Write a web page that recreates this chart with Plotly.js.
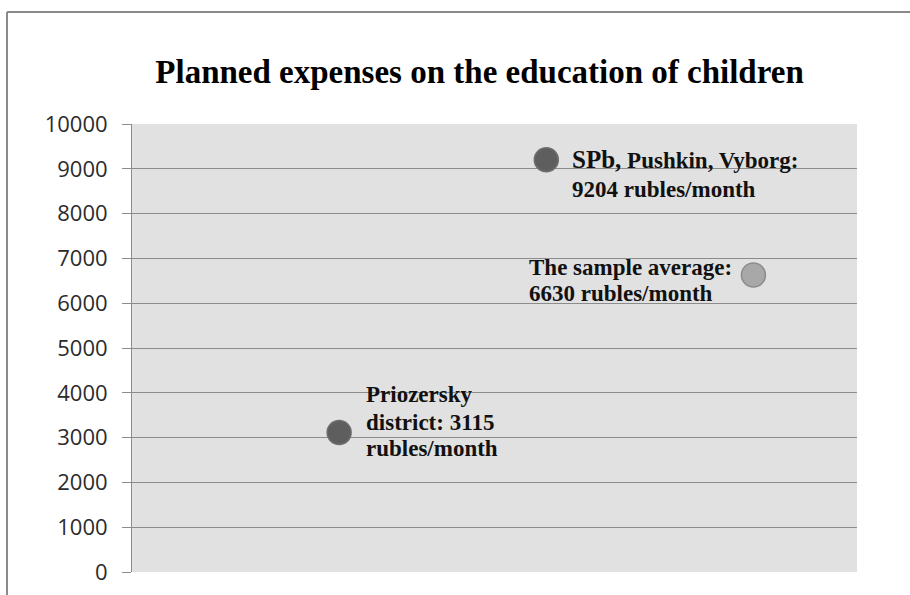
<!DOCTYPE html>
<html>
<head>
<meta charset="utf-8">
<script src="https://cdn.plot.ly/plotly-3.0.1.min.js"></script>
<style>
  html, body { margin: 0; padding: 0; background: #ffffff; }
  #chart { width: 910px; height: 595px; }
</style>
</head>
<body>
<div id="chart"></div>
<script>
// Planned monthly spending on children's education, by area
const positions = [1, 2, 3];
const expenses = [3115, 9204, 6630];
const unit = 'rubles/month';
const yTicks = [0, 1000, 2000, 3000, 4000, 5000, 6000, 7000, 8000, 9000, 10000];

const markerFill = ['#5e5e5e', '#5e5e5e', '#a8a8a8'];
const markerEdge = ['#6e6e6e', '#6e6e6e', '#8c8c8c'];

// label lines for each point; the value is inserted from the data
const labelLines = [
  ['Priozersky', 'district: ' + expenses[0], unit],
  ['<span style="font-size:25px">SPb,</span> Pushkin, Vyborg:', expenses[1] + ' ' + unit],
  ['The sample average:', expenses[2] + ' ' + unit]
];
// per-label placement: left-edge offset from the marker and vertical offset of each line (px)
const labelPlace = [
  { xshift: 25, lineShift: [38, 10, -16] },
  { xshift: 24, lineShift: [0, -30] },
  { xshift: -226, lineShift: [7, -19] }
];

const serif = '"Liberation Serif", "Times New Roman", serif';
const gridGray = '#8c8c8c';

const trace = {
  type: 'scatter',
  mode: 'markers',
  x: positions,
  y: expenses,
  marker: {
    size: 24,
    color: markerFill,
    line: { color: markerEdge, width: 1.5 }
  },
  hoverinfo: 'skip',
  cliponaxis: false
};

const annotations = [];
positions.forEach((p, i) => {
  labelLines[i].forEach((line, j) => {
    annotations.push({
      x: p,
      y: expenses[i],
      xref: 'x',
      yref: 'y',
      text: line,
      showarrow: false,
      xanchor: 'left',
      yanchor: 'middle',
      align: 'left',
      xshift: labelPlace[i].xshift,
      yshift: labelPlace[i].lineShift[j],
      font: { family: serif, size: 23, color: '#111111', weight: 'bold' }
    });
  });
});

const layout = {
  width: 910,
  height: 595,
  margin: { l: 132, r: 53, t: 124, b: 23, pad: 0 },
  paper_bgcolor: '#ffffff',
  plot_bgcolor: '#e1e1e1',
  showlegend: false,
  title: {
    text: 'Planned expenses on the education of children',
    font: { family: serif, size: 33, color: '#000000', weight: 'bold' },
    x: 0.527,
    xanchor: 'center',
    xref: 'container',
    y: 0.88,
    yanchor: 'middle',
    yref: 'container'
  },
  xaxis: {
    range: [0, 3.5],
    showticklabels: false,
    ticks: '',
    showgrid: false,
    zeroline: false,
    showline: false,
    fixedrange: true
  },
  yaxis: {
    range: [0, 10000],
    tickvals: yTicks,
    ticktext: yTicks.map(String),
    ticks: 'outside',
    ticklen: 9,
    tickwidth: 1,
    tickcolor: gridGray,
    ticklabelstandoff: 10,
    showgrid: true,
    gridcolor: gridGray,
    gridwidth: 1,
    zeroline: false,
    showline: true,
    linecolor: gridGray,
    linewidth: 1,
    tickfont: { family: '"Open Sans", sans-serif', size: 22, color: '#2b2b2b' },
    fixedrange: true
  },
  annotations: annotations,
  shapes: [
    // outer frame: top edge and left edge
    { type: 'line', xref: 'paper', yref: 'paper', x0: -0.1724, x1: 1.1, y0: 1.25, y1: 1.25,
      line: { color: '#8a8a8a', width: 2 } },
    { type: 'line', xref: 'paper', yref: 'paper', x0: -0.1724, x1: -0.1724, y0: 1.25, y1: -0.1,
      line: { color: '#8a8a8a', width: 2 } }
  ]
};

Plotly.newPlot('chart', [trace], layout, { displayModeBar: false, staticPlot: true });
</script>
</body>
</html>
